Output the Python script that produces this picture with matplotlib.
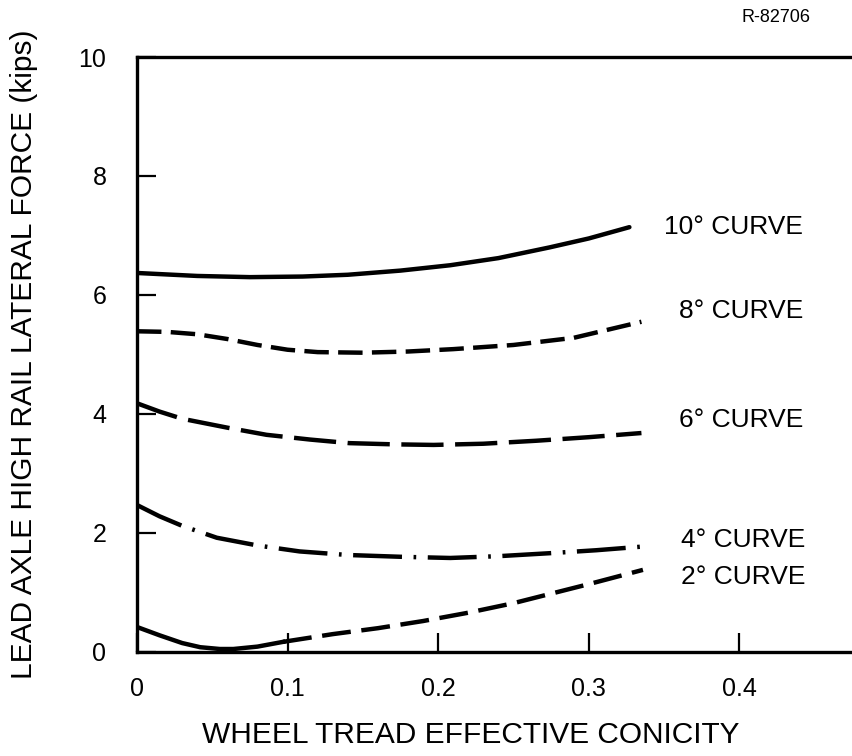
import numpy as np
import matplotlib.pyplot as plt

plt.rcParams['font.family'] = ['Liberation Sans', 'DejaVu Sans']

# Curve data (conicity, lateral force in kips)
x_10 = [0.0, 0.04, 0.075, 0.11, 0.14, 0.175, 0.208, 0.24, 0.274, 0.3, 0.327]
y_10 = [6.37, 6.32, 6.30, 6.31, 6.34, 6.41, 6.50, 6.62, 6.80, 6.95, 7.14]

x_8 = [0.0, 0.02, 0.04, 0.06, 0.08, 0.1, 0.12, 0.15, 0.18, 0.21, 0.25, 0.29, 0.335]
y_8 = [5.39, 5.38, 5.34, 5.26, 5.16, 5.08, 5.04, 5.03, 5.05, 5.09, 5.16, 5.28, 5.55]

x_6 = [0.0, 0.015, 0.03, 0.06, 0.086, 0.115, 0.141, 0.17, 0.197, 0.23, 0.265, 0.3, 0.335]
y_6 = [4.18, 4.04, 3.92, 3.77, 3.65, 3.57, 3.51, 3.49, 3.48, 3.50, 3.55, 3.61, 3.68]

x_4 = [0.0, 0.015, 0.03, 0.053, 0.08, 0.108, 0.14, 0.175, 0.208, 0.24, 0.274, 0.305, 0.335]
y_4 = [2.47, 2.28, 2.12, 1.92, 1.79, 1.69, 1.63, 1.60, 1.58, 1.61, 1.66, 1.71, 1.77]

x_2a = [0.0, 0.015, 0.03, 0.042, 0.055, 0.064, 0.08, 0.097]
y_2a = [0.42, 0.28, 0.15, 0.08, 0.05, 0.05, 0.09, 0.17]
x_2b = [0.097, 0.13, 0.16, 0.19, 0.22, 0.25, 0.275, 0.3, 0.336]
y_2b = [0.17, 0.30, 0.40, 0.52, 0.66, 0.82, 0.98, 1.14, 1.38]

labels = ["10\u00b0 CURVE", "8\u00b0 CURVE", "6\u00b0 CURVE", "4\u00b0 CURVE", "2\u00b0 CURVE"]
label_x = [0.350, 0.360, 0.360, 0.361, 0.361]
label_y = [7.14, 5.73, 3.90, 1.88, 1.26]

x_ticks = [0, 0.1, 0.2, 0.3, 0.4]
x_ticklabels = ["0", "0.1", "0.2", "0.3", "0.4"]
y_ticks = [0, 2, 4, 6, 8, 10]

fig = plt.figure(figsize=(8.53, 7.56), dpi=100)
ax = fig.add_axes([0.1606, 0.1376, 0.8394, 0.787])

lw = 3.2
ax.plot(x_10, y_10, color="black", lw=lw, solid_capstyle="round")
ax.plot(x_8, y_8, color="black", lw=lw, dashes=(5.5, 2.1))
ax.plot(x_6, y_6, color="black", lw=lw, dashes=(9.5, 2.6))
ax.plot(x_4, y_4, color="black", lw=lw, dashes=(11, 2.6, 0.6, 2.6))
ax.plot(x_2a, y_2a, color="black", lw=lw)
ax.plot(x_2b, y_2b, color="black", lw=lw, dashes=(6.5, 2.4))

for lab, lx, ly in zip(labels, label_x, label_y):
    ax.text(lx, ly, lab, fontsize=19, ha="left", va="center")

ax.set_xlim(0, 0.4755)
ax.set_ylim(0, 10)
ax.set_xticks(x_ticks)
ax.set_xticklabels(x_ticklabels)
ax.set_yticks(y_ticks)

ax.spines["right"].set_visible(False)
for s in ["left", "top", "bottom"]:
    ax.spines[s].set_linewidth(2.4)

ax.tick_params(axis="x", direction="in", length=14, width=1.6, pad=18, labelsize=18)
ax.tick_params(axis="y", direction="in", length=14, width=1.6, pad=22, labelsize=18)

ax.set_xlabel("WHEEL TREAD EFFECTIVE CONICITY", fontsize=21.5, va="center")
ax.xaxis.set_label_coords(0.4665, -0.1395)
ax.set_ylabel("LEAD AXLE HIGH RAIL LATERAL FORCE (kips)", fontsize=21.5)
ax.yaxis.set_label_coords(-0.138, 0.5)

fig.text(0.91, 0.977, "R-82706", fontsize=13, ha="center", va="center")

fig.savefig("out.png", dpi=100)
